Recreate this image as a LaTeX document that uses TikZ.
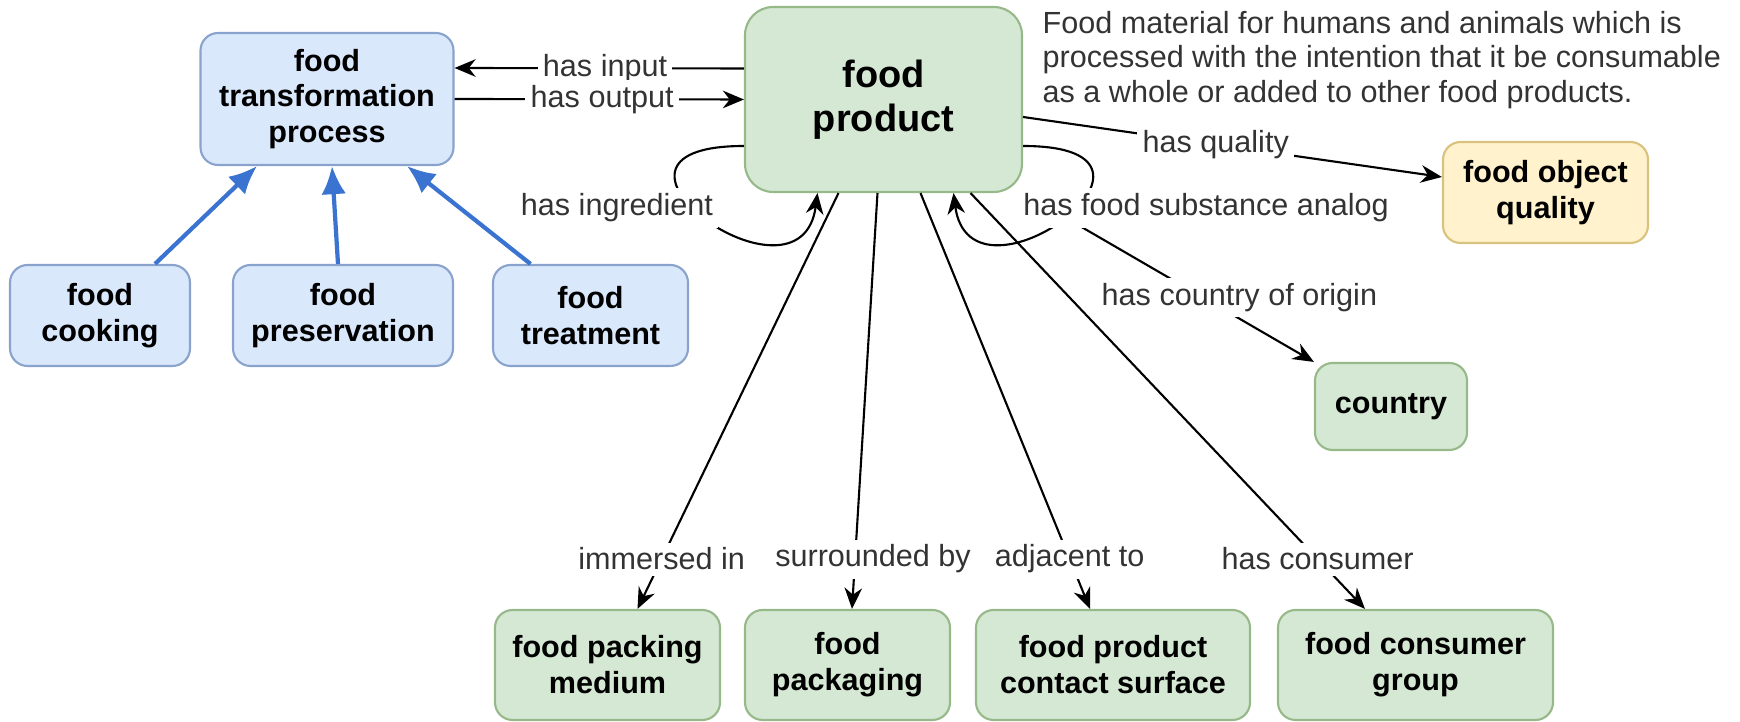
\documentclass[tikz,border=0pt]{standalone}
\usepackage{fontspec}
\setmainfont{Liberation Sans}
\usetikzlibrary{arrows.meta, positioning}
\tikzset{>={Stealth[length=6pt,width=5pt]}}
\definecolor{procfill}{HTML}{DAE8FC}
\definecolor{procline}{HTML}{8AA3CC}
\definecolor{prodfill}{HTML}{D5E8D4}
\definecolor{prodline}{HTML}{97B98A}
\definecolor{qualfill}{HTML}{FFF2CC}
\definecolor{qualline}{HTML}{D9C27E}
\definecolor{isablue}{HTML}{3A74D0}
\definecolor{labelgray}{HTML}{333333}

\tikzset{
  box/.style={draw, rounded corners=5pt, line width=0.6pt, align=center, inner sep=2pt,
    font=\fontsize{8.7}{10.2}\selectfont\bfseries},
  procbox/.style={box, draw=procline, fill=procfill},
  prodbox/.style={box, draw=prodline, fill=prodfill},
  qualbox/.style={box, draw=qualline, fill=qualfill},
  lbl/.style={fill=white, inner sep=1.5pt, text=labelgray, font=\fontsize{8.7}{10.2}\selectfont},
  rel/.style={->, line width=0.6pt},
  isa/.style={-{Latex[length=8pt,width=7pt]}, isablue, line width=1.2pt},
}

\begin{document}
\begin{tikzpicture}
	\useasboundingbox (0,0) rectangle (17.40,7.22);
	% processes
	\node[procbox, minimum width=2.53cm, minimum height=1.32cm] (ftp) at (3.27,6.23) {food\\transformation\\process};
	\node[procbox, minimum width=1.80cm, minimum height=1.01cm] (cooking) at (1.00,4.065) {food\\cooking};
	\node[procbox, minimum width=2.20cm, minimum height=1.01cm] (preservation) at (3.43,4.065) {food\\preservation};
	\node[procbox, minimum width=1.95cm, minimum height=1.01cm] (treatment) at (5.905,4.065) {food\\treatment};
	% product and related classes
	\node[prodbox, rounded corners=8pt, minimum width=2.77cm, minimum height=1.85cm, font=\fontsize{10.8}{12.6}\selectfont\bfseries] (product) at (8.835,6.225) {food\\product};
	\node[qualbox, minimum width=2.05cm, minimum height=1.01cm] (quality) at (15.455,5.295) {food object\\quality};
	\node[prodbox, minimum width=1.52cm, minimum height=0.87cm] (country) at (13.91,3.155) {country};
	\node[prodbox, minimum width=2.25cm, minimum height=1.10cm] (medium) at (6.075,0.57) {food packing\\medium};
	\node[prodbox, minimum width=2.05cm, minimum height=1.10cm] (packaging) at (8.475,0.57) {food\\packaging};
	\node[prodbox, minimum width=2.74cm, minimum height=1.10cm] (surface) at (11.13,0.57) {food product\\contact surface};
	\node[prodbox, minimum width=2.75cm, minimum height=1.10cm] (consumer) at (14.155,0.57) {food consumer\\group};
	\node[anchor=west, align=left, inner sep=0pt, text=labelgray, font=\fontsize{8.7}{9.9}\selectfont] (definition) at (10.42,6.62) {Food material for humans and animals which is\\processed with the intention that it be consumable\\as a whole or added to other food products.};

	% subclasses
	\draw[isa] ([xshift=0.55cm]cooking.north) -- ([xshift=-0.70cm]ftp.south);
	\draw[isa] ([xshift=-0.05cm]preservation.north) -- ([xshift=0.05cm]ftp.south);
	\draw[isa] ([xshift=-0.60cm]treatment.north) -- ([xshift=0.80cm]ftp.south);

	% relations
	\draw[rel] ([yshift=0.31cm]product.west) -- node[lbl, pos=0.48] (hasinput) {has input} ([yshift=0.31cm]ftp.east);
	\draw[rel] (ftp.east) -- node[lbl, pos=0.51] (hasoutput) {has output} (product.west);
	\draw[rel] ([yshift=-0.465cm]product.west) .. controls +(-1.85,0) and +(-0.17,-1.28) .. ([xshift=-0.66cm]product.south);
	\node[lbl] (hasingredient) at (6.17,5.14) {has ingredient};
	\draw[rel] ([yshift=-0.175cm]product.east) -- node[lbl, pos=0.46] (hasquality) {has quality} ([yshift=0.155cm]quality.west);
	\draw[rel] (product.south east) -- node[lbl, pos=0.62, xshift=0.36cm] (hasorigin) {has country of origin} (country.north west);
	\draw[rel] ([yshift=-0.465cm]product.east) .. controls +(1.85,0) and +(0.17,-1.28) .. ([xshift=0.70cm]product.south);
	\node[lbl] (hasanalog) at (12.06,5.14) {has food substance analog};

	\draw[rel] ([xshift=-0.45cm]product.south) -- node[lbl, pos=0.88] (immersed) {immersed in} ([xshift=0.30cm]medium.north);
	\draw[rel] ([xshift=-0.06cm]product.south) -- node[lbl, pos=0.88, xshift=0.18cm] (surrounded) {surrounded by} ([xshift=0.045cm]packaging.north);
	\draw[rel] ([xshift=0.37cm]product.south) -- node[lbl, pos=0.88] (adjacent) {adjacent to} ([xshift=-0.23cm]surface.north);
	\draw[rel] ([xshift=0.87cm]product.south) -- node[lbl, pos=0.88] (hasconsumer) {has consumer} ([xshift=-0.505cm]consumer.north);
\end{tikzpicture}
\end{document}
